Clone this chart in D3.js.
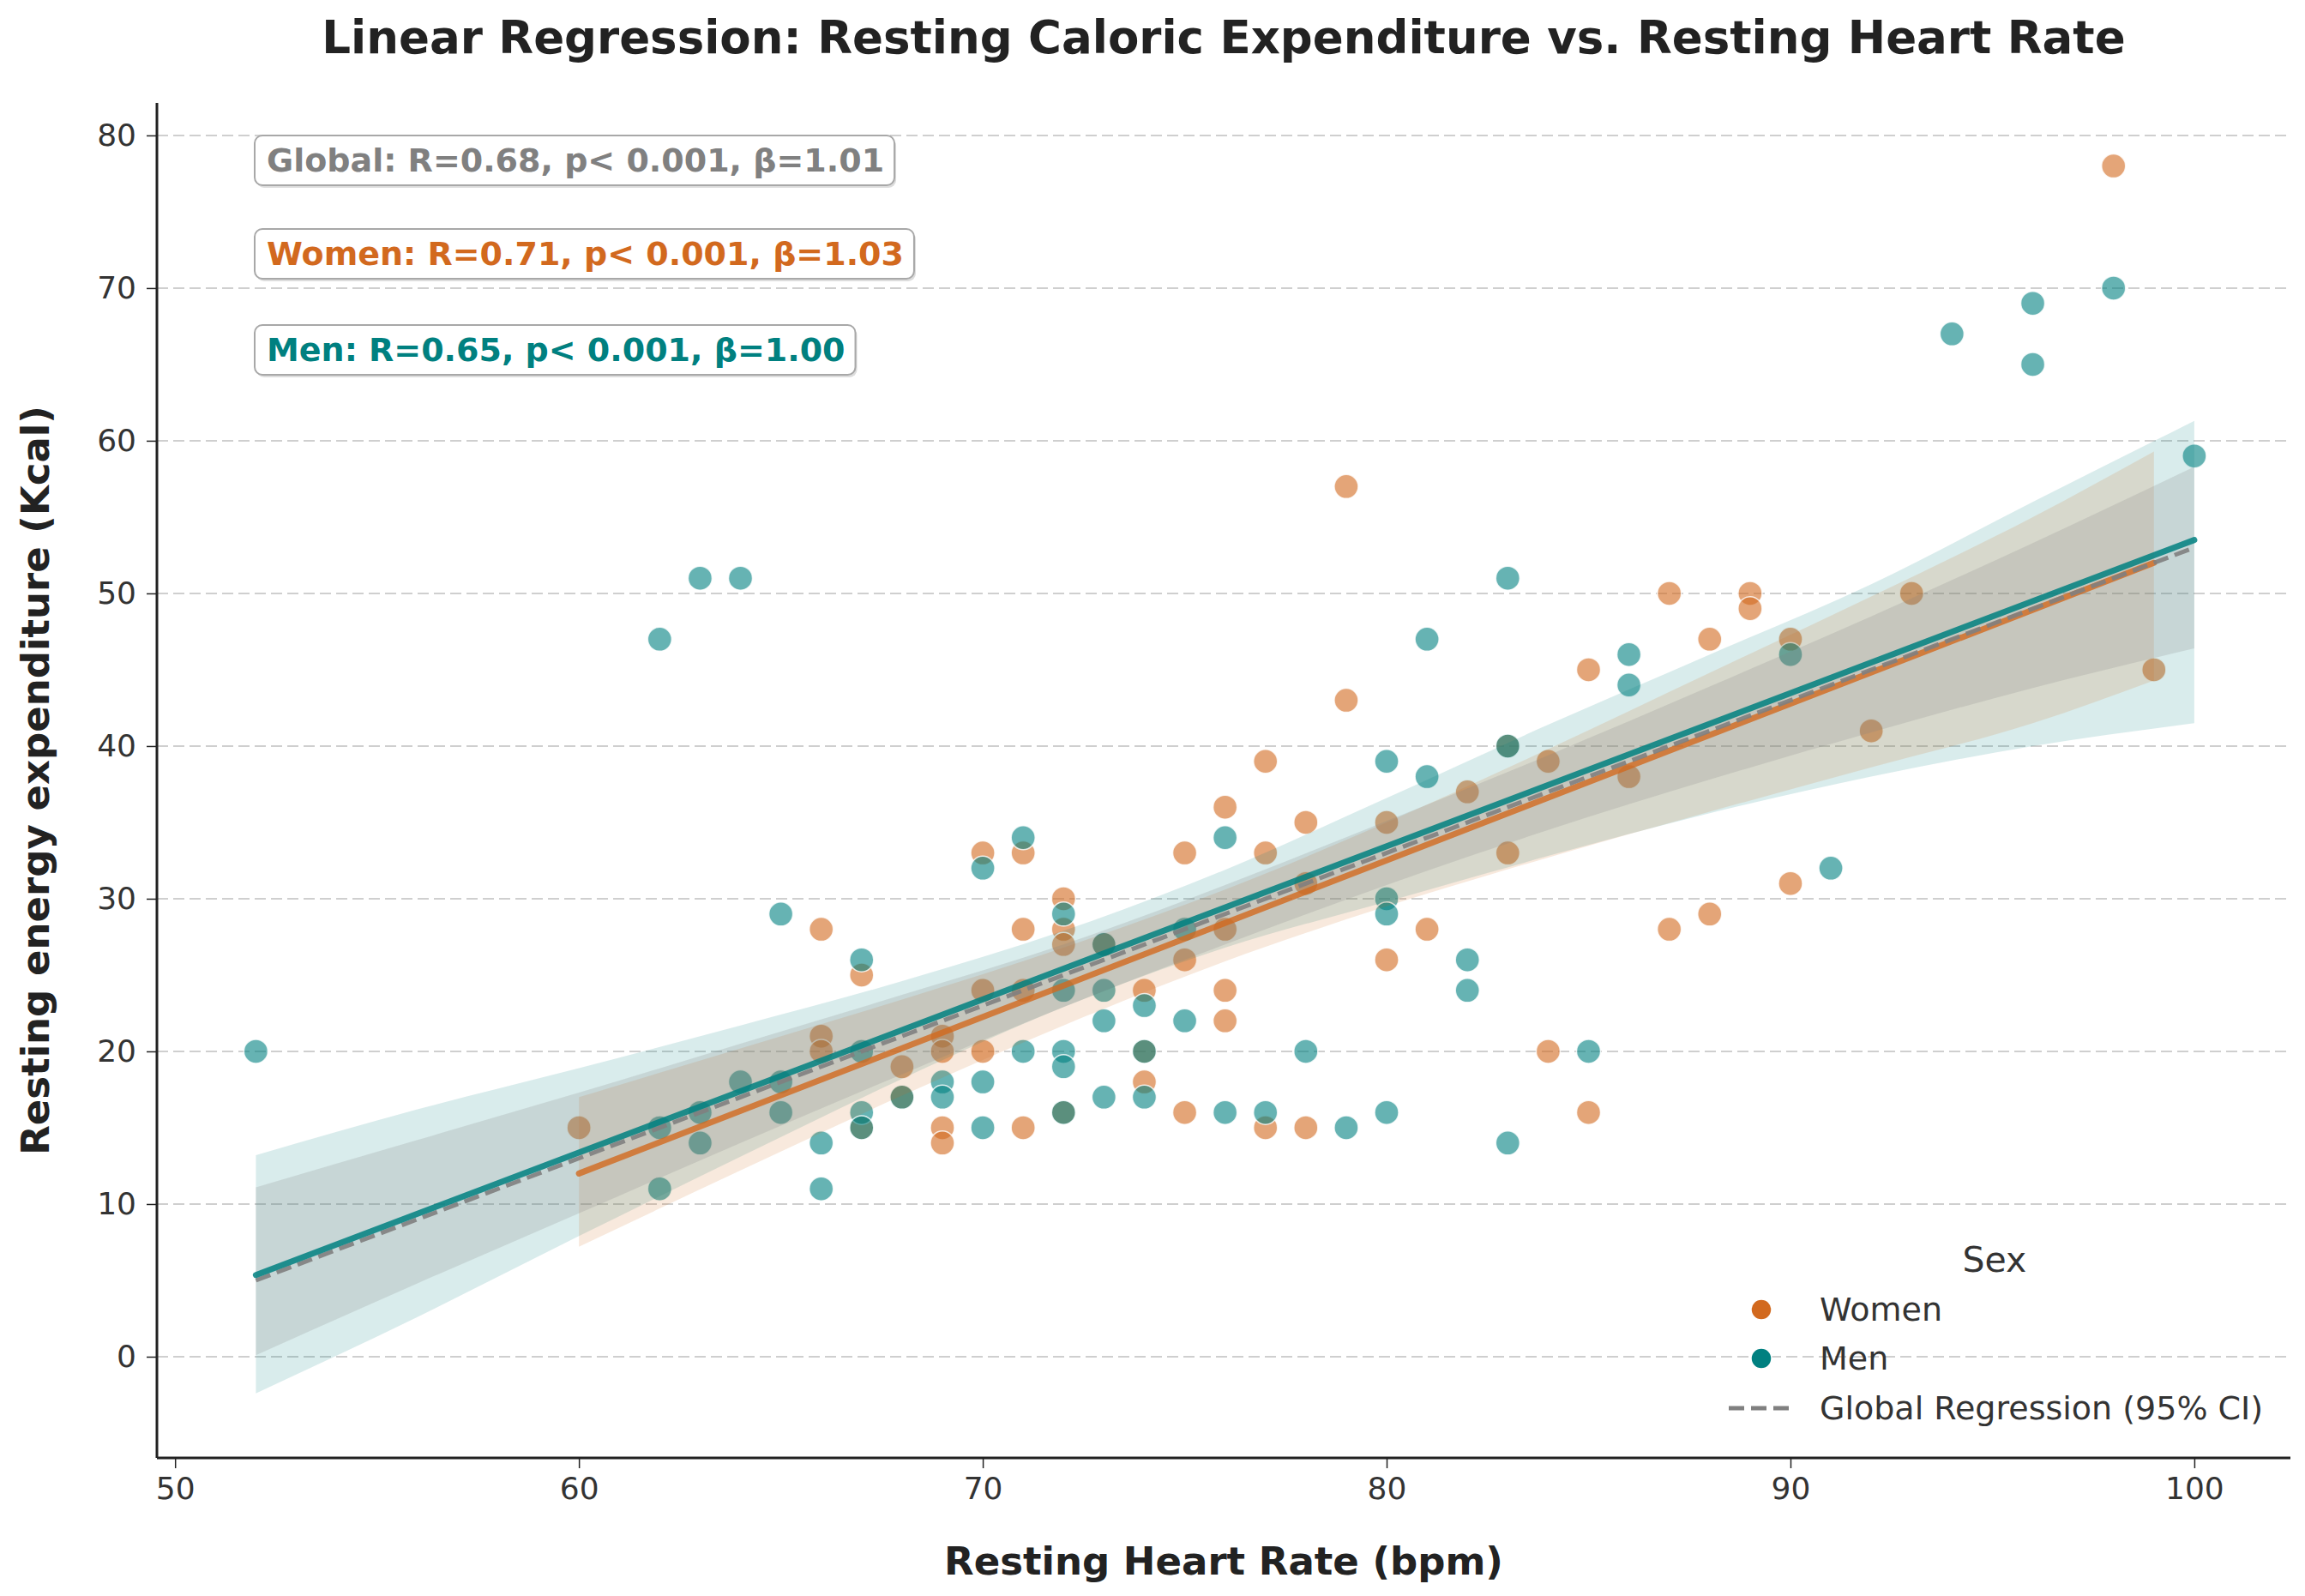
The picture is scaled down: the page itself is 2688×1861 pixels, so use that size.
<!DOCTYPE html>
<html>
<head>
<meta charset="utf-8">
<script src="https://cdn.jsdelivr.net/npm/d3@7"></script>
<style>
  body { margin: 0; background: #ffffff; }
  text { font-family: "DejaVu Sans", sans-serif; }
</style>
</head>
<body>
<div id="chart"></div>
<script>
// scatter points: [heart rate, kcal]
var women = [
    [60,15],
    [66,28],[66,21],[66,20],
    [67,25],[67,15],
    [68,19],[68,17],
    [69,21],[69,20],[69,15],[69,14],
    [70,33],[70,24],[70,20],
    [71,33],[71,28],[71,24],[71,15],
    [72,30],[72,28],[72,27],[72,16],
    [73,27],
    [74,24],[74,20],[74,18],
    [75,33],[75,26],[75,16],
    [76,36],[76,28],[76,24],[76,22],
    [77,39],[77,33],[77,15],
    [78,35],[78,31],[78,15],
    [79,57],[79,43],
    [80,35],[80,26],
    [81,28],
    [82,37],
    [83,40],[83,33],
    [84,39],[84,20],
    [85,45],[85,16],
    [86,38],
    [87,50],[87,28],
    [88,47],[88,29],
    [89,50],[89,49],
    [90,47],[90,31],
    [92,41],
    [93,50],
    [98,78],
    [99,45]
];

var men = [
    [52,20],
    [62,47],[62,15],[62,11],
    [63,51],[63,16],[63,14],
    [64,51],[64,18],
    [65,29],[65,18],[65,16],
    [66,14],[66,11],
    [67,26],[67,20],[67,16],[67,15],
    [68,17],
    [69,18],[69,17],
    [70,32],[70,18],[70,15],
    [71,34],[71,20],
    [72,29],[72,24],[72,20],[72,19],[72,16],
    [73,27],[73,24],[73,22],[73,17],
    [74,23],[74,20],[74,17],
    [75,28],[75,22],
    [76,34],[76,16],
    [77,16],
    [78,20],
    [79,15],
    [80,39],[80,30],[80,29],[80,16],
    [81,47],[81,38],
    [82,26],[82,24],
    [83,51],[83,40],[83,14],
    [85,20],
    [86,46],[86,44],
    [90,46],
    [91,32],
    [94,67],
    [96,69],[96,65],
    [98,70],
    [100,59]
];

// fitted lines (end points)
var menFitX = [52, 100], menFitY = [5.35, 53.5];
var womenFitX = [60, 99], womenFitY = [12.0, 52.0];
var globalFitX = [52, 100], globalFitY = [5.0, 53.0];

// 95% CI bands
var menBandX  = [52, 56, 60, 64, 68, 72, 76, 80, 84, 88, 92, 96, 100];
var menBandLo = [-2.4, 2.6, 7.9, 13.1, 18.2, 22.9, 26.8, 29.8, 32.8, 35.6, 38.0, 40.0, 41.5];
var menBandHi = [13.2, 16.2, 18.9, 21.7, 24.6, 27.9, 31.9, 36.6, 41.4, 46.0, 50.6, 56.0, 61.3];

var womenBandX  = [60, 64, 68, 72, 76, 80, 84, 88, 92, 96, 99];
var womenBandLo = [7.2, 12.2, 17.1, 21.7, 25.9, 29.5, 32.7, 35.7, 38.6, 41.5, 44.3];
var womenBandHi = [17.0, 20.2, 23.4, 26.8, 30.6, 35.0, 39.8, 44.8, 49.8, 55.0, 59.3];

var globalBandX  = [52, 56, 60, 64, 68, 72, 76, 80, 84, 88, 92, 96, 100];
var globalBandLo = [0.1, 4.8, 9.4, 14.0, 18.5, 22.9, 27.0, 30.9, 34.5, 37.8, 40.9, 43.8, 46.4];
var globalBandHi = [11.1, 14.2, 17.3, 20.5, 23.7, 27.0, 30.9, 35.1, 39.4, 43.9, 48.5, 53.3, 58.3];

var xTicks = [50, 60, 70, 80, 90, 100];
var yTicks = [0, 10, 20, 30, 40, 50, 60, 70, 80];

var statLabels = [
    "Global: R=0.68, p< 0.001, \u03b2=1.01",
    "Women: R=0.71, p< 0.001, \u03b2=1.03",
    "Men: R=0.65, p< 0.001, \u03b2=1.00"
];
var legendLabels = ["Women", "Men", "Global Regression (95% CI)"];

var WOMEN = "#d2691e", MEN = "#008080", GLOBAL = "#808080";

function draw() {
    var W = 2688, H = 1861;
    var left = 183, right = 2671, top = 120, bottom = 1700;

    var svg = d3.select("#chart")
                .append("svg")
                .attr("width", W)
                .attr("height", H);

    var x = d3.scaleLinear().domain([49.55, 102.38]).range([left, right]);
    var y = d3.scaleLinear().domain([-6.63, 82.13]).range([bottom, top]);

    // horizontal grid
    svg.append("g").selectAll("line")
        .data(yTicks)
        .enter()
        .append("line")
        .attr("x1", left).attr("x2", right)
        .attr("y1", function(d) { return y(d); })
        .attr("y2", function(d) { return y(d); })
        .attr("stroke", "#cfcfcf")
        .attr("stroke-width", 2)
        .attr("stroke-dasharray", "13,6");

    // points
    function dots(data, col) {
        svg.append("g").selectAll("circle")
            .data(data)
            .enter()
            .append("circle")
            .attr("cx", function(d) { return x(d[0]); })
            .attr("cy", function(d) { return y(d[1]); })
            .attr("r", 14)
            .attr("fill", col)
            .attr("fill-opacity", 0.6)
            .attr("stroke", "#ffffff")
            .attr("stroke-opacity", 0.8)
            .attr("stroke-width", 1.5);
    }
    dots(women, WOMEN);
    dots(men, MEN);

    // CI bands
    function band(xs, lo, hi, col, op) {
        var pts = xs.map(function(v, i) { return [v, lo[i], hi[i]]; });
        var area = d3.area()
            .x(function(d) { return x(d[0]); })
            .y0(function(d) { return y(d[1]); })
            .y1(function(d) { return y(d[2]); })
            .curve(d3.curveMonotoneX);
        svg.append("path")
            .datum(pts)
            .attr("d", area)
            .attr("fill", col)
            .attr("fill-opacity", op);
    }
    band(menBandX, menBandLo, menBandHi, MEN, 0.15);
    band(womenBandX, womenBandLo, womenBandHi, WOMEN, 0.15);
    band(globalBandX, globalBandLo, globalBandHi, GLOBAL, 0.2);

    // fitted lines
    function fit(xs, ys, col, w, dash, op) {
        var line = d3.line()
            .x(function(d) { return x(d[0]); })
            .y(function(d) { return y(d[1]); });
        svg.append("path")
            .datum(xs.map(function(v, i) { return [v, ys[i]]; }))
            .attr("d", line)
            .attr("fill", "none")
            .attr("stroke", col)
            .attr("stroke-width", w)
            .attr("stroke-opacity", op)
            .attr("stroke-linecap", dash ? "butt" : "round")
            .attr("stroke-dasharray", dash);
    }
    fit(womenFitX, womenFitY, WOMEN, 7, null, 0.8);
    fit(globalFitX, globalFitY, GLOBAL, 5, "18,8", 0.9);
    fit(menFitX, menFitY, MEN, 7, null, 0.85);

    // axes
    var xAxis = d3.axisBottom(x).tickValues(xTicks).tickSize(12).tickPadding(10);
    var yAxis = d3.axisLeft(y).tickValues(yTicks).tickSize(12).tickPadding(12);

    var gx = svg.append("g")
        .attr("transform", "translate(0," + bottom + ")")
        .call(xAxis);
    var gy = svg.append("g")
        .attr("transform", "translate(" + left + ",0)")
        .call(yAxis);

    [gx, gy].forEach(function(g) {
        g.select(".domain").attr("stroke", "#222").attr("stroke-width", 3);
        g.selectAll(".tick line").attr("stroke", "#222").attr("stroke-width", 1.5);
        g.selectAll(".tick text")
            .attr("fill", "#333")
            .style("font-size", "36px")
            .style("font-family", "DejaVu Sans, sans-serif");
    });
    gx.select(".domain").attr("d", "M" + left + ",0H" + right);
    gy.select(".domain").attr("d", "M0," + top + "V" + bottom);

    // stat boxes
    var boxY = [187, 296, 408];
    var boxCol = [GLOBAL, WOMEN, MEN];
    statLabels.forEach(function(s, i) {
        var g = svg.append("g");
        var t = g.append("text")
            .attr("x", 311)
            .attr("y", boxY[i])
            .attr("dy", "0.35em")
            .attr("fill", boxCol[i])
            .style("font-size", "38px")
            .style("font-weight", "bold")
            .text(s);
        var bw = t.node().getComputedTextLength() + 26;
        g.insert("rect", "text")
            .attr("x", 299).attr("y", boxY[i] - 26)
            .attr("width", bw).attr("height", 58)
            .attr("rx", 9)
            .attr("fill", "#dddddd");
        g.insert("rect", "text")
            .attr("x", 297).attr("y", boxY[i] - 29)
            .attr("width", bw).attr("height", 58)
            .attr("rx", 9)
            .attr("fill", "#ffffff")
            .attr("stroke", "#a8a8a8")
            .attr("stroke-width", 2);
    });

    // legend
    var lg = svg.append("g");
    lg.append("text")
        .attr("x", 2326).attr("y", 1469)
        .attr("dy", "0.35em")
        .attr("text-anchor", "middle")
        .attr("fill", "#333")
        .style("font-size", "41px")
        .text("Sex");
    var rowY = [1527, 1584, 1642];
    lg.selectAll("circle")
        .data([WOMEN, MEN])
        .enter()
        .append("circle")
        .attr("cx", 2054)
        .attr("cy", function(d, i) { return rowY[i]; })
        .attr("r", 12)
        .attr("fill", function(d) { return d; })
        .attr("stroke", "#fff")
        .attr("stroke-width", 1.5);
    lg.append("line")
        .attr("x1", 2016).attr("x2", 2091)
        .attr("y1", rowY[2]).attr("y2", rowY[2])
        .attr("stroke", GLOBAL)
        .attr("stroke-width", 5)
        .attr("stroke-dasharray", "18,8");
    lg.selectAll("text.item")
        .data(legendLabels)
        .enter()
        .append("text")
        .attr("class", "item")
        .attr("x", 2122)
        .attr("y", function(d, i) { return rowY[i]; })
        .attr("dy", "0.35em")
        .attr("fill", "#333")
        .style("font-size", "38px")
        .text(function(d) { return d; });

    // titles
    svg.append("text")
        .attr("x", 1427).attr("y", 43)
        .attr("dy", "0.35em")
        .attr("text-anchor", "middle")
        .attr("fill", "#222")
        .style("font-size", "53px")
        .style("font-weight", "bold")
        .text("Linear Regression: Resting Caloric Expenditure vs. Resting Heart Rate");

    svg.append("text")
        .attr("x", 1427).attr("y", 1820)
        .attr("dy", "0.35em")
        .attr("text-anchor", "middle")
        .attr("fill", "#222")
        .style("font-size", "45px")
        .style("font-weight", "bold")
        .text("Resting Heart Rate (bpm)");

    svg.append("text")
        .attr("transform", "translate(41,910) rotate(-90)")
        .attr("dy", "0.35em")
        .attr("text-anchor", "middle")
        .attr("fill", "#222")
        .style("font-size", "45px")
        .style("font-weight", "bold")
        .text("Resting energy expenditure (Kcal)");
}

window.onload = draw;
</script>
</body>
</html>
